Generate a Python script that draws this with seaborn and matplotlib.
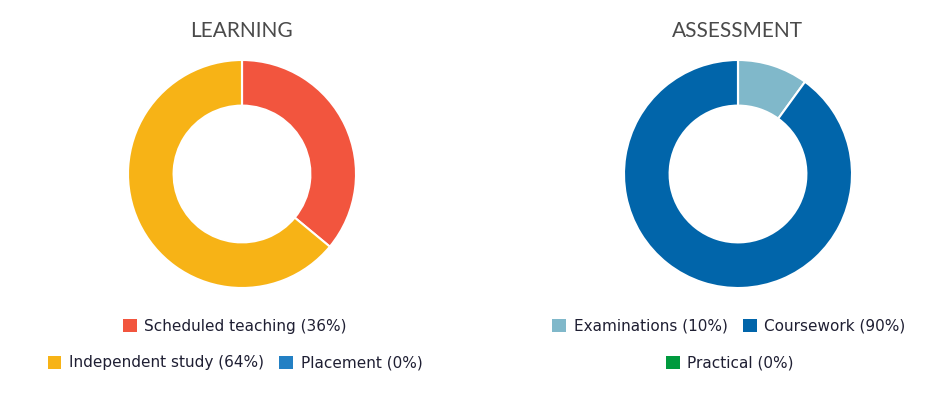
import matplotlib
matplotlib.use('Agg')
import matplotlib.pyplot as plt
import seaborn as sns

sns.set_theme(style='white')
plt.rcParams['font.family'] = ['DejaVu Sans']

# data
learning_labels = ['Scheduled teaching', 'Independent study', 'Placement']
learning_values = [36, 64, 0]
learning_colors = ['#F2553E', '#F7B316', '#2380C4']

assessment_labels = ['Examinations', 'Coursework', 'Practical']
assessment_values = [10, 90, 0]
assessment_colors = ['#80B8CA', '#0165AA', '#009A3E']

titles = ['LEARNING', 'ASSESSMENT']

fig = plt.figure(figsize=(9.37, 4.13), dpi=100)


def donut(rect, values, colors):
    ax = fig.add_axes(rect)
    wedges, _ = ax.pie(values, colors=colors, startangle=90, counterclock=False,
                       wedgeprops=dict(width=0.4, edgecolor='white', linewidth=1.5))
    ax.set_xlim(-1, 1)
    ax.set_ylim(-1, 1)
    ax.set_aspect('equal')
    ax.axis('off')
    return wedges


def legend_row(handles, labels, x, y):
    leg = fig.legend(handles, labels, loc='center', bbox_to_anchor=(x, y),
                     ncol=len(handles), frameon=False, fontsize=11,
                     handlelength=0.9, handleheight=0.9, handletextpad=0.5,
                     columnspacing=1.0, labelcolor='#1f1f33')
    for h in leg.legend_handles:
        h.set_edgecolor('none')
    return leg


w1 = donut([128 / 937, 125 / 413, 228 / 937, 228 / 413], learning_values, learning_colors)
w2 = donut([624 / 937, 125 / 413, 228 / 937, 228 / 413], assessment_values, assessment_colors)

fig.text(242 / 937, 1 - 31 / 413, titles[0], ha='center', va='center',
         fontsize=15, color='#4a4a4a', family=['Lato', 'DejaVu Sans'])
fig.text(737 / 937, 1 - 31 / 413, titles[1], ha='center', va='center',
         fontsize=15, color='#4a4a4a', family=['Lato', 'DejaVu Sans'])

l_lab = [f'{n} ({v}%)' for n, v in zip(learning_labels, learning_values)]
a_lab = [f'{n} ({v}%)' for n, v in zip(assessment_labels, assessment_values)]

legend_row(w1[:1], l_lab[:1], 235 / 937, 1 - 326 / 413)
legend_row(w1[1:], l_lab[1:], 235 / 937, 1 - 363 / 413)
legend_row(w2[:2], a_lab[:2], 729 / 937, 1 - 326 / 413)
legend_row(w2[2:], a_lab[2:], 730 / 937, 1 - 363 / 413)

fig.savefig('out.png', dpi=100, facecolor='white')
